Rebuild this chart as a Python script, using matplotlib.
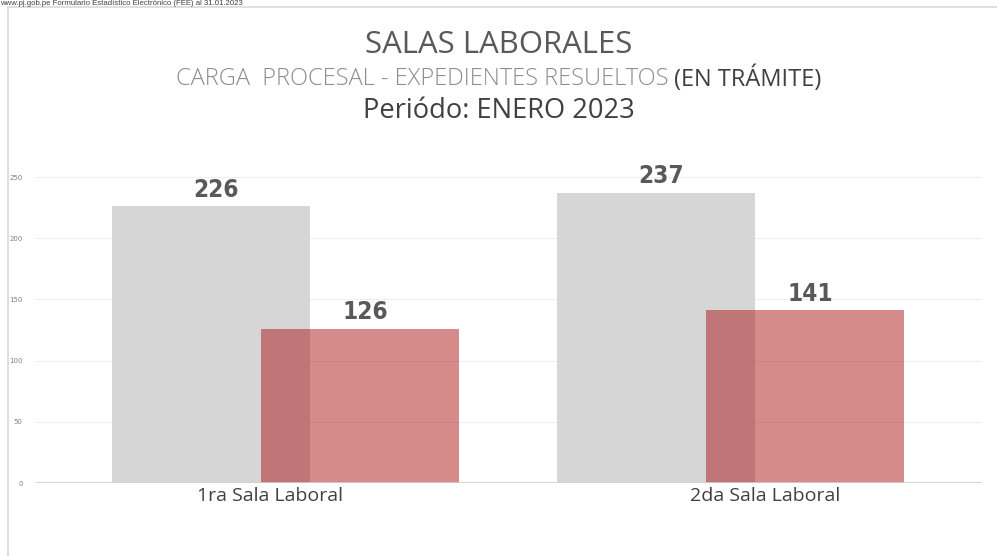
import matplotlib
matplotlib.use("Agg")
import matplotlib.pyplot as plt
from matplotlib.lines import Line2D
import numpy as np

# ------------------ Datos ------------------
salas = ["1ra Sala Laboral", "2da Sala Laboral"]
carga_procesal = [226, 237]
resueltos = [126, 141]
y_ticks = [0, 50, 100, 150, 200, 250]

# ------------------ Figura ------------------
fig = plt.figure(figsize=(9.97, 5.56), dpi=100)
fig.patch.set_facecolor("white")

# marco gris claro (solo izquierda y arriba)
fig.lines.append(Line2D([8 / 997, 8 / 997], [0, 1 - 7 / 556], transform=fig.transFigure,
                        color="#d9d9d9", lw=1.2))
fig.lines.append(Line2D([8 / 997, 1], [1 - 7 / 556, 1 - 7 / 556], transform=fig.transFigure,
                        color="#d9d9d9", lw=1.2))

ax = fig.add_axes([35 / 997, 1 - 483 / 556, 947 / 997, 333 / 556])

x = np.arange(len(salas))
off = 0.1675
w = 0.445
b1 = ax.bar(x - off, carga_procesal, w, color="#d6d6d6", zorder=2)
b2 = ax.bar(x + off, resueltos, w, color="#a80a0a", alpha=0.47, zorder=3)

for bars in (b1, b2):
    for r in bars:
        ax.annotate(f"{int(r.get_height())}",
                    (r.get_x() + r.get_width() / 2 + 0.012, r.get_height()),
                    xytext=(0, 3.5), textcoords="offset points",
                    ha="center", va="bottom", fontsize=17.5, fontweight="bold",
                    color="#595959", family="DejaVu Sans", fontstretch="condensed")

ax.set_xlim(-0.563, 1.566)
ax.set_ylim(0, 272.06)
ax.set_yticks(y_ticks)
ax.set_yticklabels([str(t) for t in y_ticks], fontsize=5, color="#808080")
ax.tick_params(axis="y", length=0, pad=9)
ax.set_xticks([])
ax.grid(axis="y", color="#eeeeee", lw=0.8, zorder=0)
for s in ax.spines.values():
    s.set_visible(False)
ax.axhline(0, color="#d0d0d0", lw=1.2, zorder=4)

# etiquetas de categoría
label_pos = [-0.035, 1.078]
for p, s in zip(label_pos, salas):
    ax.text(p, -3, s, ha="center", va="top", fontsize=14, color="#404040",
            family="Open Sans")

# títulos
fig.text(0.5, 1 - 45 / 556, "SALAS LABORALES", ha="center", va="center",
         fontsize=22.4, color="#595959", family="Open Sans")
t1 = fig.text(0, 1 - 79 / 556, "CARGA  PROCESAL - EXPEDIENTES RESUELTOS ",
              ha="left", va="center", fontsize=17, color="#8c8c8c",
              family="Open Sans", fontweight="light")
t2 = fig.text(0, 1 - 79 / 556, "(EN TRÁMITE)", ha="left", va="center",
              fontsize=17, color="#404040", family="Open Sans")
fig.text(0.5, 1 - 111 / 556, "Periódo: ENERO 2023", ha="center", va="center",
         fontsize=19.6, color="#404040", family="Open Sans")

# centrar la línea del subtítulo
r = fig.canvas.get_renderer()
w1 = t1.get_window_extent(r).width
w2 = t2.get_window_extent(r).width
x0 = (fig.bbox.width - (w1 + w2)) / 2
t1.set_x(x0 / fig.bbox.width)
t2.set_x((x0 + w1) / fig.bbox.width)

fig.text(0, 1, "www.pj.gob.pe Formulario Estadístico Electrónico (FEE) al 31.01.2023",
         ha="left", va="top", fontsize=5.6, color="#404040",
         family="Liberation Sans")

fig.savefig("out.png", dpi=100)
